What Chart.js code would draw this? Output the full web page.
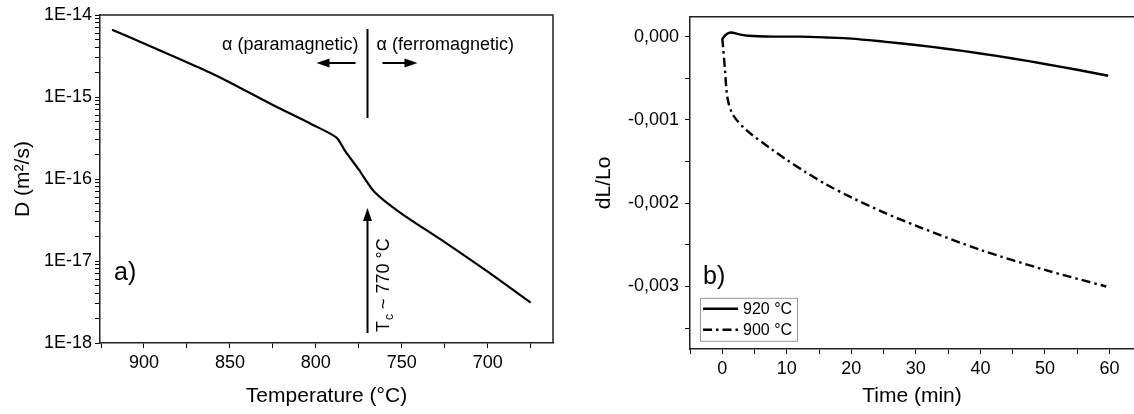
<!DOCTYPE html>
<html>
<head>
<meta charset="utf-8">
<script src="https://cdn.jsdelivr.net/npm/chart.js@4.4.1/dist/chart.umd.min.js"></script>
<style>
body{margin:0;background:#fff;}
#wrap{position:relative;width:1134px;height:414px;overflow:hidden;}
#chartA{position:absolute;left:0;top:0;width:570px;height:414px;}
#chartB{position:absolute;left:570px;top:0;width:564px;height:414px;}
</style>
</head>
<body>
<div id="wrap">
<canvas id="chartA" width="570" height="414"></canvas>
<canvas id="chartB" width="564" height="414"></canvas>
</div>
<script>
// panel a) diffusion coefficient vs temperature
const tempC = [918.6, 900, 880, 862, 850, 825, 802, 788, 783, 775, 766, 751, 725, 700, 675];
const diffCoef = [6.6e-15, 4.5e-15, 2.95e-15, 2.0e-15, 1.5e-15, 8.0e-16, 4.6e-16, 3.2e-16, 2.2e-16, 1.3e-16, 7.0e-17, 3.9e-17, 1.7e-17, 7.4e-18, 3.1e-18];
const tempTicks = [925, 900, 875, 850, 825, 800, 775, 750, 725, 700, 675];
const tempLabelStep = 50;
const decades = [-18, -17, -16, -15, -14];
const curieT = 770;

// panel b) dilatometry
const time920 = [0, 0.5, 1.3, 2.5, 4, 8, 12, 16, 20, 25, 30, 35, 40, 45, 50, 55, 59.8];
const dl920 = [-0.00003, 0.00002, 0.00005, 0.00003, 0.00001, 0.0, 0.0, -0.00001, -0.000024, -0.00006, -0.0001, -0.000148, -0.000202, -0.000262, -0.000328, -0.000398, -0.00047];
const time900 = [0, 0.1, 0.4, 0.8, 1.6, 3.7, 7.8, 10, 13, 16, 20, 25, 30, 40, 50, 59.5];
const dl900 = [-0.00002, -0.0001, -0.00038, -0.00073, -0.00093, -0.00112, -0.00136, -0.00148, -0.00163, -0.00177, -0.00193, -0.00211, -0.00227, -0.00256, -0.0028, -0.003];
const timeTicks = [-5, 0, 5, 10, 15, 20, 25, 30, 35, 40, 45, 50, 55, 60];
const dlTicks = [0, -0.0005, -0.001, -0.0015, -0.002, -0.0025, -0.003, -0.0035];
const seriesNames = ['920 °C', '900 °C'];

Chart.defaults.font.family = '"Liberation Sans", Arial, sans-serif';
Chart.defaults.color = '#000';

const FONT = '"Liberation Sans", Arial, sans-serif';

function axisStyle(){
  return {
    grid:{drawOnChartArea:false, drawTicks:true, tickLength:5, tickColor:'#000', tickWidth:1},
    border:{display:true, color:'#222', width:1.5}
  };
}

function arrow(ctx, x1, y1, x2, y2){
  const a = Math.atan2(y2 - y1, x2 - x1);
  const head = 13;
  const hw = 4.5;
  ctx.beginPath();
  ctx.moveTo(x1, y1);
  ctx.lineTo(x2 - Math.cos(a) * head * 0.8, y2 - Math.sin(a) * head * 0.8);
  ctx.stroke();
  ctx.beginPath();
  ctx.moveTo(x2, y2);
  ctx.lineTo(x2 - head * Math.cos(a) + hw * Math.sin(a), y2 - head * Math.sin(a) - hw * Math.cos(a));
  ctx.lineTo(x2 - head * Math.cos(a) - hw * Math.sin(a), y2 - head * Math.sin(a) + hw * Math.cos(a));
  ctx.closePath();
  ctx.fill();
}

const frameA = {
  id:'frameA',
  afterDraw(chart){
    const ctx = chart.ctx;
    const {left, right, top, bottom} = chart.chartArea;
    ctx.save();
    ctx.strokeStyle = '#222';
    ctx.lineWidth = 1.5;
    ctx.beginPath();
    ctx.moveTo(left, top);
    ctx.lineTo(right, top);
    ctx.lineTo(right, bottom);
    ctx.stroke();

    const cx = Math.round(chart.scales.x.getPixelForValue(curieT)) + 0.5;
    ctx.strokeStyle = '#000';
    ctx.fillStyle = '#000';
    ctx.lineWidth = 2;
    ctx.beginPath();
    ctx.moveTo(cx, top + 14);
    ctx.lineTo(cx, top + 103);
    ctx.stroke();

    ctx.font = '18px ' + FONT;
    ctx.textBaseline = 'middle';
    ctx.textAlign = 'right';
    ctx.fillText('\u03b1 (paramagnetic)', cx - 9, top + 30);
    ctx.textAlign = 'left';
    ctx.fillText('\u03b1 (ferromagnetic)', cx + 9, top + 30);

    arrow(ctx, cx - 12, top + 48, cx - 51, top + 48);
    arrow(ctx, cx + 15, top + 48, cx + 50, top + 48);
    arrow(ctx, cx, bottom - 10, cx, top + 193);

    // rotated T_c label
    ctx.save();
    ctx.translate(cx + 17, bottom - 11);
    ctx.rotate(-Math.PI / 2);
    ctx.textAlign = 'left';
    ctx.textBaseline = 'middle';
    ctx.font = '18px ' + FONT;
    ctx.fillText('T', 0, 0);
    let w = ctx.measureText('T').width;
    ctx.font = '12px ' + FONT;
    ctx.fillText('c', w + 1, 5);
    w += ctx.measureText('c').width + 1;
    ctx.font = '18px ' + FONT;
    ctx.fillText(' ~ ' + curieT + ' \u00b0C', w, 0);
    ctx.restore();

    ctx.font = '25px ' + FONT;
    ctx.textAlign = 'left';
    ctx.textBaseline = 'middle';
    ctx.fillText('a)', left + 14, top + 258);
    ctx.restore();
  }
};

const frameB = {
  id:'frameB',
  afterDraw(chart){
    const ctx = chart.ctx;
    const {left, right, top} = chart.chartArea;
    ctx.save();
    ctx.strokeStyle = '#222';
    ctx.lineWidth = 1.5;
    ctx.beginPath();
    ctx.moveTo(left, top);
    ctx.lineTo(right, top);
    ctx.stroke();

    ctx.fillStyle = '#000';
    ctx.font = '25px ' + FONT;
    ctx.textBaseline = 'middle';
    ctx.fillText('b)', left + 13, top + 260);

    // legend box
    const bx = left + 10, by = top + 281;
    ctx.strokeStyle = '#9a9a9a';
    ctx.lineWidth = 1;
    ctx.strokeRect(bx + 0.5, by + 0.5, 97, 43);
    ctx.font = '16px ' + FONT;
    chart.data.datasets.forEach((ds, i) => {
      const ly = by + 11 + i * 21;
      ctx.strokeStyle = '#000';
      ctx.lineWidth = ds.borderWidth;
      ctx.setLineDash(ds.borderDash || []);
      ctx.beginPath();
      ctx.moveTo(bx + 3, ly);
      ctx.lineTo(bx + 38, ly);
      ctx.stroke();
      ctx.setLineDash([]);
      ctx.fillText(ds.label, bx + 43, ly + 1);
    });
    ctx.restore();
  }
};

new Chart(document.getElementById('chartA'), {
  type:'line',
  data:{
    datasets:[{
      label:'D',
      data:tempC.map((t, i) => ({x:t, y:diffCoef[i]})),
      borderColor:'#000',
      borderWidth:2.2,
      pointRadius:0,
      tension:0.25
    }]
  },
  options:{
    responsive:false,
    animation:false,
    layout:{padding:{top:15, right:17, left:0, bottom:0}},
    plugins:{legend:{display:false}, tooltip:{enabled:false}},
    scales:{
      x:{
        type:'linear',
        reverse:true,
        min:662,
        max:925.6,
        afterBuildTicks:s => { s.ticks = tempTicks.map(v => ({value:v})); },
        afterFit:s => { s.height = 71; },
        ticks:{
          autoSkip:false, maxRotation:0, padding:4, font:{size:18},
          callback:v => (v % tempLabelStep === 0 ? String(v) : '')
        },
        title:{display:true, text:'Temperature (\u00b0C)', font:{size:21}, padding:{top:0, bottom:5}},
        ...axisStyle()
      },
      y:{
        type:'logarithmic',
        min:1e-18,
        max:1e-14,
        afterBuildTicks:s => {
          const t = [];
          decades.forEach(e => {
            for (let k = 1; k <= 9; k++) {
              const v = k * Math.pow(10, e);
              if (v <= 1.0001e-14) t.push({value:v});
            }
          });
          s.ticks = t;
        },
        afterFit:s => { s.width = 100; },
        ticks:{
          autoSkip:false, padding:3, font:{size:18},
          callback:v => {
            const e = Math.round(Math.log10(v));
            return Math.abs(v / Math.pow(10, e) - 1) < 1e-6 ? '1E' + e : '';
          }
        },
        title:{display:true, text:'D (m\u00b2/s)', font:{size:21}, padding:{top:11, bottom:0}},
        ...axisStyle()
      }
    }
  },
  plugins:[frameA]
});

function fmtDl(v){
  if (Math.abs(v) < 1e-9) return '0,000';
  if (Math.abs(Math.round(v * 1000) - v * 1000) > 1e-6) return '';
  return v.toFixed(3).replace('.', ',');
}

new Chart(document.getElementById('chartB'), {
  type:'line',
  data:{
    datasets:[{
      label:seriesNames[0],
      data:time920.map((t, i) => ({x:t, y:dl920[i]})),
      borderColor:'#000',
      borderWidth:2.4,
      pointRadius:0,
      tension:0.3
    }, {
      label:seriesNames[1],
      data:time900.map((t, i) => ({x:t, y:dl900[i]})),
      borderColor:'#000',
      borderWidth:2.4,
      borderDash:[9, 4, 2.5, 4],
      pointRadius:0,
      tension:0.3
    }]
  },
  options:{
    responsive:false,
    animation:false,
    layout:{padding:{top:15, right:0, left:0, bottom:0}},
    plugins:{legend:{display:false}, tooltip:{enabled:false}},
    scales:{
      x:{
        type:'linear',
        min:-5,
        max:63.8,
        afterBuildTicks:s => { s.ticks = timeTicks.map(v => ({value:v})); },
        afterFit:s => { s.height = 65; },
        ticks:{
          autoSkip:false, maxRotation:0, padding:4, font:{size:18},
          callback:v => (v % 10 === 0 ? String(v) : '')
        },
        title:{display:true, text:'Time (min)', font:{size:21}, padding:{top:0, bottom:5}},
        ...axisStyle()
      },
      y:{
        type:'linear',
        min:-0.00375,
        max:0.000238,
        afterBuildTicks:s => { s.ticks = dlTicks.map(v => ({value:v})); },
        afterFit:s => { s.width = 120; },
        ticks:{autoSkip:false, padding:6, font:{size:18}, callback:v => fmtDl(v)},
        title:{display:true, text:'dL/Lo', font:{size:21}, padding:{top:22, bottom:0}},
        ...axisStyle()
      }
    }
  },
  plugins:[frameB]
});
</script>
</body>
</html>
